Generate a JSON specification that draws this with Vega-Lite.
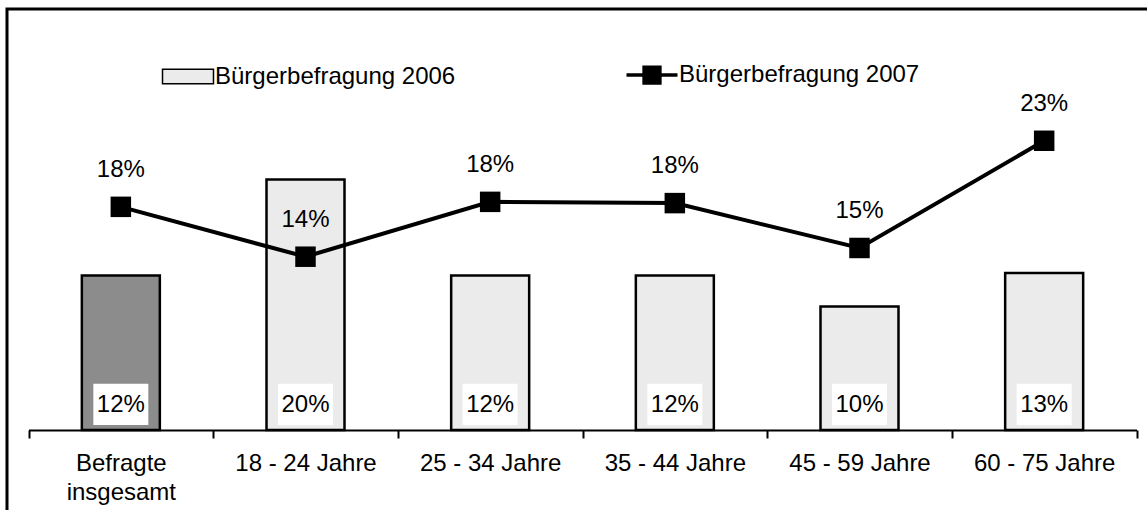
{
  "$schema": "https://vega.github.io/schema/vega-lite/v6.json",
  "width": 1143,
  "height": 504,
  "autosize": "none",
  "padding": {"left": 7, "top": 9, "right": -3, "bottom": -3},
  "background": "white",
  "config": {"font": "Liberation Sans", "view": {"stroke": "black", "strokeWidth": 3}},
  "data": {"values": [
    {"cat": "Befragte insgesamt", "series": "Bürgerbefragung 2006", "value": 0.124},
    {"cat": "18 - 24 Jahre", "series": "Bürgerbefragung 2006", "value": 0.201},
    {"cat": "25 - 34 Jahre", "series": "Bürgerbefragung 2006", "value": 0.124},
    {"cat": "35 - 44 Jahre", "series": "Bürgerbefragung 2006", "value": 0.124},
    {"cat": "45 - 59 Jahre", "series": "Bürgerbefragung 2006", "value": 0.099},
    {"cat": "60 - 75 Jahre", "series": "Bürgerbefragung 2006", "value": 0.126},
    {"cat": "Befragte insgesamt", "series": "Bürgerbefragung 2007", "value": 0.179},
    {"cat": "18 - 24 Jahre", "series": "Bürgerbefragung 2007", "value": 0.139},
    {"cat": "25 - 34 Jahre", "series": "Bürgerbefragung 2007", "value": 0.183},
    {"cat": "35 - 44 Jahre", "series": "Bürgerbefragung 2007", "value": 0.182},
    {"cat": "45 - 59 Jahre", "series": "Bürgerbefragung 2007", "value": 0.146},
    {"cat": "60 - 75 Jahre", "series": "Bürgerbefragung 2007", "value": 0.232}
  ]},
  "encoding": {
    "x": {
      "field": "cat", "type": "nominal", "sort": null,
      "scale": {"type": "band", "range": [21.5, 1129.5], "paddingInner": 0, "paddingOuter": 0},
      "axis": {
        "title": null, "orient": "bottom", "offset": -83,
        "domainColor": "black", "domainWidth": 2,
        "tickColor": "black", "tickWidth": 2, "tickSize": 8, "tickBand": "extent",
        "labelFontSize": 24, "labelColor": "black", "labelPadding": 13, "labelAngle": 0,
        "labelLineHeight": 29, "labelOverlap": false, "labelBound": false, "labelFlush": false,
        "labelExpr": "datum.label === 'Befragte insgesamt' ? ['Befragte', 'insgesamt'] : datum.label",
        "grid": false
      }
    }
  },
  "layer": [
    {
      "transform": [{"filter": "datum.series === 'Bürgerbefragung 2006'"}],
      "mark": {"type": "bar", "width": 78, "stroke": "black", "strokeWidth": 2.5, "opacity": 1},
      "encoding": {
        "y": {"field": "value", "type": "quantitative", "scale": {"domain": [0, 0.3], "range": [421, 47], "nice": false, "zero": true}, "axis": null},
        "color": {
          "condition": {"test": "datum.cat === 'Befragte insgesamt'", "value": "#8c8c8c"},
          "field": "series", "type": "nominal",
          "scale": {"domain": ["Bürgerbefragung 2006", "Bürgerbefragung 2007"], "range": ["#ebebeb", "black"]},
          "legend": {
            "orient": "none", "legendX": 169, "legendY": 54, "direction": "horizontal", "title": null,
            "labelFontSize": 24, "labelColor": "black", "labelOffset": 15, "labelFont": "Liberation Sans", "labelLimit": 500,
            "symbolSize": 2600, "columnPadding": 163, "padding": 0,
            "symbolStrokeColor": "black", "symbolStrokeWidth": 1.5, "symbolOpacity": 1,
            "encode": {"symbols": {"update": {
              "shape": {"signal": "datum.value === 'Bürgerbefragung 2006' ? 'M-1,-0.28H1V0.28H-1Z' : 'M-1,0H1M-0.31,-0.31H0.31V0.31H-0.31Z'"},
              "fill": {"signal": "datum.value === 'Bürgerbefragung 2006' ? '#ebebeb' : 'black'"},
              "stroke": {"value": "black"},
              "strokeWidth": {"signal": "datum.value === 'Bürgerbefragung 2006' ? 1.5 : 3.5"},
              "opacity": {"value": 1}
            }}}
          }
        }
      }
    },
    {
      "transform": [{"filter": "datum.series === 'Bürgerbefragung 2006'"}],
      "mark": {"type": "bar", "width": 55, "fill": "white"},
      "encoding": {
        "y": {"datum": 0.004, "type": "quantitative", "scale": {"domain": [0, 0.3], "range": [421, 47], "nice": false, "zero": true}, "axis": null},
        "y2": {"datum": 0.037}
      }
    },
    {
      "transform": [{"filter": "datum.series === 'Bürgerbefragung 2006'"}],
      "mark": {"type": "text", "fontSize": 24, "color": "black", "baseline": "middle"},
      "encoding": {
        "y": {"datum": 0.02, "type": "quantitative", "scale": {"domain": [0, 0.3], "range": [421, 47], "nice": false, "zero": true}, "axis": null},
        "text": {"field": "value", "type": "quantitative", "format": ".0%"}
      }
    },
    {
      "transform": [{"filter": "datum.series === 'Bürgerbefragung 2007'"}],
      "mark": {"type": "line", "strokeWidth": 4, "color": "black"},
      "encoding": {
        "y": {"field": "value", "type": "quantitative", "scale": {"domain": [0, 0.3], "range": [421, 47], "nice": false, "zero": true}, "axis": null}
      }
    },
    {
      "transform": [{"filter": "datum.series === 'Bürgerbefragung 2007'"}],
      "mark": {"type": "point", "shape": "square", "filled": true, "size": 420, "color": "black", "opacity": 1},
      "encoding": {
        "y": {"field": "value", "type": "quantitative", "scale": {"domain": [0, 0.3], "range": [421, 47], "nice": false, "zero": true}, "axis": null}
      }
    },
    {
      "transform": [{"filter": "datum.series === 'Bürgerbefragung 2007'"}],
      "mark": {"type": "text", "fontSize": 24, "color": "black", "dy": -37, "baseline": "middle"},
      "encoding": {
        "y": {"field": "value", "type": "quantitative", "scale": {"domain": [0, 0.3], "range": [421, 47], "nice": false, "zero": true}, "axis": null},
        "text": {"field": "value", "type": "quantitative", "format": ".0%"}
      }
    }
  ]
}
